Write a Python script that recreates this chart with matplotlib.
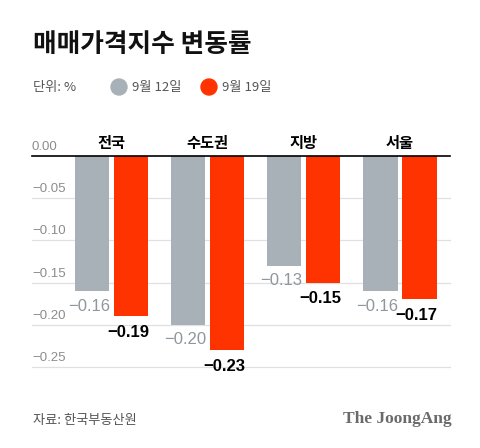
import numpy as np
import matplotlib
matplotlib.use("Agg")
import matplotlib.pyplot as plt
from matplotlib.patches import Circle
from matplotlib import transforms

plt.rcParams['font.family'] = ['Noto Sans CJK KR', 'DejaVu Sans']
plt.rcParams['axes.unicode_minus'] = True

regions = ['전국', '수도권', '지방', '서울']
sep12 = [-0.16, -0.20, -0.13, -0.16]
sep19 = [-0.19, -0.23, -0.15, -0.17]
yticks = [0.0, -0.05, -0.10, -0.15, -0.20, -0.25]

gray = '#a8b1b7'
red = '#ff3300'
num_font = ['Liberation Sans', 'DejaVu Sans']

fig = plt.figure(figsize=(4.8, 4.48), dpi=100)
ax = fig.add_axes([32/480, (448-367)/448, 418/480, 211/448])

x = np.arange(len(regions))
w = 0.355
off = 0.203
ax.bar(x - off, sep12, width=w, color=gray, zorder=3)
ax.bar(x + off, sep19, width=w, color=red, zorder=3)

ax.set_xlim(-0.828, 3.52)
ax.set_ylim(-0.25, 0)
for s in ax.spines.values():
    s.set_visible(False)
ax.set_xticks([])
ax.set_yticks([])

def fmt(v):
    return ('%.2f' % v).replace('-', '\u2212')

# grid lines and tick labels above them
tr = transforms.blended_transform_factory(ax.transAxes, ax.transData)
tr = tr + transforms.ScaledTranslation(0, 9/100, fig.dpi_scale_trans)
for v in yticks:
    if v == 0:
        ax.axhline(v, color='black', lw=1.2, zorder=4, clip_on=False)
    else:
        ax.axhline(v, color='#e0e0e0', lw=0.9, zorder=1, clip_on=False)
    ax.text(0, v, fmt(v) if v != 0 else '0.00', transform=tr, ha='left',
            va='center', fontsize=9.5, color='#8c8c8c', family=num_font)

# value labels
for i in range(len(regions)):
    t = transforms.offset_copy(ax.transData, fig=fig, y=-15, units='dots')
    ax.text(x[i] - off - 0.03, sep12[i], fmt(sep12[i]), transform=t,
            ha='center', va='center', fontsize=12, color='#8f979c',
            family=num_font)
    t2 = transforms.offset_copy(ax.transData, fig=fig, y=-16, units='dots')
    ax.text(x[i] + off - 0.03, sep19[i], fmt(sep19[i]), transform=t2,
            ha='center', va='center', fontsize=12, color='black',
            fontweight='bold', family=num_font)
    t3 = transforms.offset_copy(ax.transData, fig=fig, y=13, units='dots')
    ax.text(x[i], 0, regions[i], transform=t3, ha='center', va='center',
            fontsize=11, color='black', fontweight='bold')

# title and legend
fig.text(33/480, 1 - 45/448, '매매가격지수 변동률', fontsize=18.5,
         fontweight='heavy', ha='left', va='center', color='#111111')
fig.text(33/480, 1 - 87/448, '단위: %', fontsize=9.5, ha='left',
         va='center', color='#555555')
fig.add_artist(Circle((119, 448 - 87), 8, color=gray, transform=None))
fig.add_artist(Circle((209, 448 - 87), 8, color=red, transform=None))
fig.text(132/480, 1 - 87/448, '9월 12일', fontsize=9.5, ha='left',
         va='center', color='#555555')
fig.text(222/480, 1 - 87/448, '9월 19일', fontsize=9.5, ha='left',
         va='center', color='#555555')

# footer
fig.text(33/480, 1 - 420/448, '자료: 한국부동산원', fontsize=9.5, ha='left',
         va='center', color='#555555')
fig.text(452/480, 1 - 419/448, 'The JoongAng', fontsize=12.5, ha='right',
         va='center', color='#6a6a6a', fontweight='bold',
         family='Liberation Serif')

fig.savefig('out.png', dpi=100)
